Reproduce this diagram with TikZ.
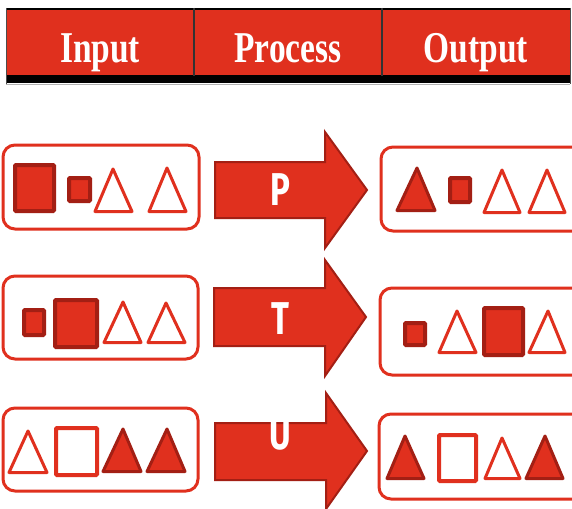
\documentclass[tikz,border=0pt]{standalone}
\usepackage{graphicx}
\usepackage{fontspec}
\setmainfont{Liberation Serif}
\newfontfamily\lettfont{Fira Sans}
\definecolor{myred}{HTML}{E0301E}
\definecolor{darkred}{HTML}{A31F14}
\tikzset{
  hdrtext/.style={text=white,font=\bfseries\fontsize{44}{44}\selectfont,anchor=base,inner sep=0pt},
  lettext/.style={text=white,font=\lettfont\bfseries\fontsize{46}{46}\selectfont,inner sep=0pt},
  frame/.style={draw=myred,line width=3pt,rounded corners=12pt},
  fsq/.style={fill=myred,draw=darkred,line width=4pt,rounded corners=1pt},
  osq/.style={fill=white,draw=myred,line width=4pt,rounded corners=1pt},
  ftri/.style={fill=myred,draw=darkred,line width=3pt,line join=round},
  otri/.style={fill=white,draw=myred,line width=3pt,line join=round},
  bigarrow/.style={fill=myred,draw=darkred,line width=2pt,line join=miter}
}
\begin{document}
\begin{tikzpicture}[x=1pt,y=-1pt]
\clip (0,0) rectangle (572,508);
\fill[white] (0,0) rectangle (572,508);
% header
\fill[black] (6,8.5) rectangle (570,10.5);
\fill[myred] (6,10) rectangle (570,75);
\fill[black] (6,75) rectangle (570,83);
\draw[gray!60,line width=0.8pt] (6,84) -- (570,84);
\draw[black!80,line width=1.2pt] (194,8) -- (194,76);
\draw[black!80,line width=1.2pt] (382,8) -- (382,76);
\draw[black!70,line width=0.8pt] (6,8) -- (6,84);
\draw[black!70,line width=0.8pt] (570,8) -- (570,84);
\node[hdrtext] (hin) at (100,63) {\scalebox{0.76}[1]{Input}};
\node[hdrtext] (hpr) at (288,63) {\scalebox{0.76}[1]{Process}};
\node[hdrtext] (hout) at (476,63) {\scalebox{0.76}[1]{Output}};
% frames
\draw[frame] (3,145) rectangle (199,229);
\draw[frame] (3,276) rectangle (198,359);
\draw[frame] (3,408) rectangle (198,491);
\draw[frame] (381,147) rectangle (600,231);
\draw[frame] (380,288) rectangle (600,375);
\draw[frame] (379,414) rectangle (600,499);
% arrows
\draw[bigarrow] (215,162) -- (325,162) -- (325,132) -- (367,190) -- (325,248) -- (325,218) -- (215,218) -- cycle;
\draw[bigarrow] (214,288) -- (325,288) -- (325,260) -- (366,317) -- (325,376) -- (325,346) -- (214,346) -- cycle;
\draw[bigarrow] (215,423) -- (326,423) -- (326,393) -- (367,451) -- (326,509) -- (326,480) -- (215,480) -- cycle;
\node[lettext] (lp) at (280,190) {\scalebox{0.72}[1]{P}};
\node[lettext] (lt) at (280,319) {\scalebox{0.72}[1]{T}};
\node[lettext] (lu) at (280,434) {\scalebox{0.72}[1]{U}};
% row 1 input
\draw[fsq] (15,165) rectangle (54,211);
\draw[fsq] (69,178) rectangle (90,201);
\draw[otri] (113,169) -- (95,211.5) -- (132,211.5) -- cycle;
\draw[otri] (167,168) -- (149,211.5) -- (186,211.5) -- cycle;
% row 1 output
\draw[ftri] (417,168) -- (397,210.5) -- (435,210.5) -- cycle;
\draw[fsq] (450,178) rectangle (470,202);
\draw[otri] (502,170) -- (484,212.5) -- (520,212.5) -- cycle;
\draw[otri] (547,170) -- (529,212.5) -- (565,212.5) -- cycle;
% row 2 input
\draw[fsq] (24,310) rectangle (44,335);
\draw[fsq] (55,300) rectangle (97,347);
\draw[otri] (123,302) -- (104,342.5) -- (141,342.5) -- cycle;
\draw[otri] (166,303) -- (148,342.5) -- (185,342.5) -- cycle;
% row 2 output
\draw[fsq] (405,323) rectangle (425,345);
\draw[otri] (457,311) -- (439,352.5) -- (476,352.5) -- cycle;
\draw[fsq] (484,308) rectangle (523,355);
\draw[otri] (548,311) -- (529,352.5) -- (565,352.5) -- cycle;
% row 3 input
\draw[otri] (28,431) -- (9,472.5) -- (47,472.5) -- cycle;
\draw[osq] (56,428) rectangle (97,475);
\draw[ftri] (123,429) -- (103,471.5) -- (141,471.5) -- cycle;
\draw[ftri] (167,429) -- (147,471.5) -- (185,471.5) -- cycle;
% row 3 output
\draw[ftri] (405,436) -- (387,478.5) -- (424,478.5) -- cycle;
\draw[osq] (439,435) rectangle (476,481);
\draw[otri] (502,438) -- (485,478.5) -- (520,478.5) -- cycle;
\draw[ftri] (545,436) -- (526,478.5) -- (563,478.5) -- cycle;
\end{tikzpicture}
\end{document}
